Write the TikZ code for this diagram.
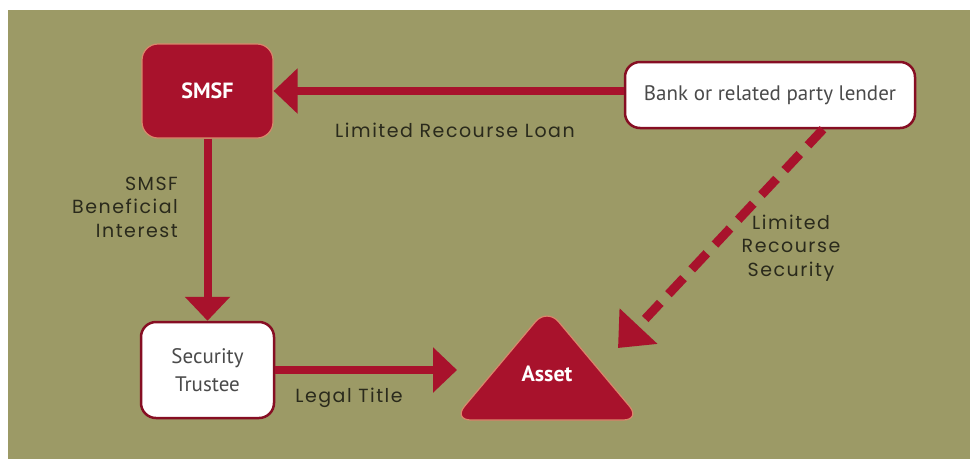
\documentclass[tikz,border=0pt]{standalone}
\usepackage{fontspec}
\setmainfont{PT Sans}
\newfontfamily\labelfont[LetterSpace=8]{Poppins}
\usetikzlibrary{arrows.meta}

\definecolor{olivebg}{HTML}{9C9A66}
\definecolor{wine}{HTML}{A8122C}
\definecolor{halo}{HTML}{D9876B}
\definecolor{ink}{HTML}{2A2A1C}
\definecolor{boxtext}{HTML}{4A4A4A}

\begin{document}
\begin{tikzpicture}[x=1pt,y=-1pt,
  redbox/.style={fill=wine, draw=halo, line width=1.2pt, rounded corners=16pt,
    minimum width=131pt, minimum height=94pt, inner sep=0pt,
    text=white, font=\bfseries\fontsize{22}{24}\selectfont},
  whitebox/.style={fill=white, draw=wine!80!black, line width=2.5pt, rounded corners=15pt,
    inner sep=0pt, align=center, text=boxtext, font=\fontsize{21}{28}\selectfont},
  flow/.style={draw=wine, line width=8pt, -{Triangle[length=24pt,width=44pt]}},
  secured/.style={draw=wine, line width=9pt, dash pattern=on 22pt off 12pt,
    -{Triangle[length=30pt,width=50pt]}},
  caption/.style={text=ink, font=\labelfont\fontsize{19}{23.5}\selectfont, inner sep=0pt}
]
\useasboundingbox (0,0) rectangle (973,459);
\fill[white] (0,0) rectangle (973,459);
\fill[olivebg] (8,10) rectangle (970,459);

% parties
\node[redbox] (smsf) at (207.5,91) {SMSF};
\node[whitebox, minimum width=290pt, minimum height=66pt] (bank) at (770,95)
  {Bank or related party lender};
\node[whitebox, minimum width=133pt, minimum height=96pt] (trustee) at (207.5,370)
  {Security\\Trustee};

% the asset, a rounded triangle
\fill[wine, draw=halo, line width=1.2pt, rounded corners=18pt]
  (547,420) -- (641,420) -- (547,308) -- (453,420) -- cycle;
\node[text=white, font=\bfseries\fontsize{22}{24}\selectfont] (asset) at (547,374) {Asset};
\coordinate (assetL) at (457,370);
\coordinate (assetR) at (618,348);

% connectors
\draw[flow] (bank.west |- smsf.east) -- (smsf.east);
\draw[flow] (smsf.south) -- (trustee.north);
\draw[flow] (trustee.east) -- (assetL);
\draw[secured] ([xshift=53pt]bank.south) -- (assetR);

% labels
\node[caption] (loanlbl) at (455,130) {Limited Recourse Loan};
\node[caption, align=right, anchor=east] (interestlbl) at (178,207)
  {SMSF\\Beneficial\\Interest};
\node[caption] (titlelbl) at (349,398) {Legal Title};
\node[caption, align=center] (securitylbl) at (791,248)
  {Limited\\Recourse\\Security};
\end{tikzpicture}
\end{document}
